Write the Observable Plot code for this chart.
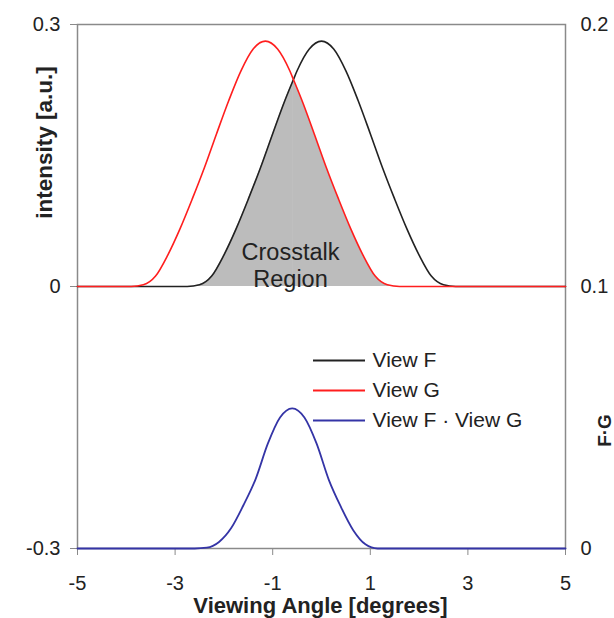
<!DOCTYPE html>
<html><head><meta charset="utf-8">
<script src="https://cdn.jsdelivr.net/npm/d3@7"></script>
<script src="https://cdn.jsdelivr.net/npm/@observablehq/plot@0.6"></script>
<style>html,body{margin:0;padding:0;background:#fff;}</style>
</head><body><div id="chart"></div>
<script>
// ---- data ----
const fAngle = [-5, -2.75, -2.5, -2.25, -2, -1.75, -1.5, -1.25, -1, -0.75, -0.575, -0.5, -0.25, 0, 0.25, 0.5, 0.75, 1, 1.25, 1.5, 1.75, 2, 2.25, 2.5, 2.75, 5];
const fIntensity = [0, 0, 0.002, 0.012, 0.036, 0.066, 0.100, 0.136, 0.175, 0.213, 0.237, 0.247, 0.272, 0.281, 0.272, 0.247, 0.213, 0.175, 0.136, 0.100, 0.066, 0.036, 0.012, 0.002, 0, 0];
const gAngle = [-5, -3.90, -3.65, -3.40, -3.15, -2.90, -2.65, -2.40, -2.15, -1.90, -1.65, -1.40, -1.15, -0.90, -0.65, -0.575, -0.40, -0.15, 0.10, 0.35, 0.60, 0.85, 1.10, 1.35, 1.60, 5];
const gIntensity = [0, 0, 0.002, 0.012, 0.036, 0.066, 0.100, 0.136, 0.175, 0.213, 0.247, 0.272, 0.281, 0.272, 0.247, 0.237, 0.213, 0.175, 0.136, 0.100, 0.066, 0.036, 0.012, 0.002, 0, 0];
const fgAngle = [-5, -2.6, -2.35, -2.1, -1.85, -1.6, -1.35, -1.1, -0.85, -0.6, -0.35, -0.1, 0.15, 0.4, 0.65, 0.9, 1.15, 1.4, 5];
const fgProduct = [0, 0, 0.0003, 0.0025, 0.0078, 0.0165, 0.0265, 0.040, 0.050, 0.0535, 0.050, 0.040, 0.0262, 0.0158, 0.0070, 0.0016, 0, 0, 0];
const crossAngle = -0.575;
const xTicks = [-5, -3, -1, 1, 3, 5];
const leftTicks = [-0.3, 0, 0.3];
const rightTicks = [0, 0.1, 0.2];
const legendLabels = ["View F", "View G", "View F \u00B7 View G"];
const regionLabel = "Crosstalk\nRegion";
const xLabel = "Viewing Angle [degrees]";
const yLabel = "intensity [a.u.]";
const y2Label = "F\u00B7G";

// ---- layout ----
const W = 614, H = 618, mL = 77, mR = 49, mT = 24, mB = 70;
const px2x = px => -5 + (px - mL) / (W - mL - mR) * 10;
const px2y = py => 0.3 - (py - mT) / (H - mT - mB) * 0.6;
const toLeft = v => -0.3 + v * 3; // right axis 0..0.2 -> left axis -0.3..0.3
const fromLeft = d => Math.round((d + 0.3) / 3 * 10) / 10;

const colF = "#222222", colG = "#ff1e1e", colFG = "#3434a6";
const legendColors = [colF, colG, colFG];

const F = fAngle.map((x, i) => ({x, y: fIntensity[i]}));
const G = gAngle.map((x, i) => ({x, y: gIntensity[i]}));
const FG = fgAngle.map((x, i) => ({x, y: toLeft(fgProduct[i])}));
const areaLeft = F.filter(d => d.x <= crossAngle && d.x > -4);
const areaRight = G.filter(d => d.x >= crossAngle && d.x < 4);

const legend = legendLabels.map((label, i) => ({
  label, color: legendColors[i],
  x1: px2x(313), x2: px2x(365), tx: px2x(372), y: px2y(360 + 30 * i)
}));

const font = "'Liberation Sans', Arial, sans-serif";

const chart = Plot.plot({
  width: W, height: H,
  marginLeft: mL, marginRight: mR, marginTop: mT, marginBottom: mB,
  style: {fontFamily: font, fontSize: "20px", color: "#222", background: "#fff", overflow: "visible"},
  x: {domain: [-5, 5]},
  y: {domain: [-0.3, 0.3]},
  marks: [
    Plot.areaY(areaLeft, {x: "x", y: "y", fill: "#bcbcbc", curve: "monotone-x"}),
    Plot.areaY(areaRight, {x: "x", y: "y", fill: "#bcbcbc", curve: "monotone-x"}),
    Plot.frame({stroke: "#8a8a8a", strokeWidth: 1.5}),
    Plot.axisX({ticks: xTicks, tickSize: 7, tickPadding: 20, tickFormat: d => String(d), label: null, stroke: "#8a8a8a", fill: "#222"}),
    Plot.axisY({ticks: leftTicks, anchor: "left", tickSize: 7, tickPadding: 10, tickFormat: d => String(d), label: null, stroke: "#8a8a8a", fill: "#222"}),
    Plot.axisY({ticks: rightTicks.map(toLeft), anchor: "right", tickSize: 0, tickPadding: 15, tickFormat: d => String(fromLeft(d)), label: null, fill: "#222"}),
    Plot.line(F, {x: "x", y: "y", stroke: colF, strokeWidth: 1.6, curve: "monotone-x"}),
    Plot.line(G, {x: "x", y: "y", stroke: colG, strokeWidth: 1.6, curve: "monotone-x"}),
    Plot.line(FG, {x: "x", y: "y", stroke: colFG, strokeWidth: 1.8, curve: "monotone-x"}),
    Plot.text([regionLabel], {x: px2x(290), y: px2y(264), fontSize: 23.5, lineHeight: 1.15, fill: "#222"}),
    Plot.ruleY(legend, {x1: "x1", x2: "x2", y: "y", stroke: "color", strokeWidth: 1.8}),
    Plot.text(legend, {x: "tx", y: "y", text: "label", textAnchor: "start", fontSize: 21, fill: "#222"}),
    Plot.text([xLabel], {x: px2x(320), y: px2y(612), lineAnchor: "bottom", fontWeight: "bold", fontSize: 22, fill: "#222"}),
    Plot.text([yLabel], {x: px2x(44), y: px2y(142), rotate: -90, fontWeight: "bold", fontSize: 22.5, fill: "#222"}),
    Plot.text([y2Label], {x: px2x(604), y: px2y(430), rotate: -90, fontWeight: "bold", fontSize: 19, fill: "#222"})
  ]
});
document.getElementById("chart").appendChild(chart);
</script>
</body></html>
